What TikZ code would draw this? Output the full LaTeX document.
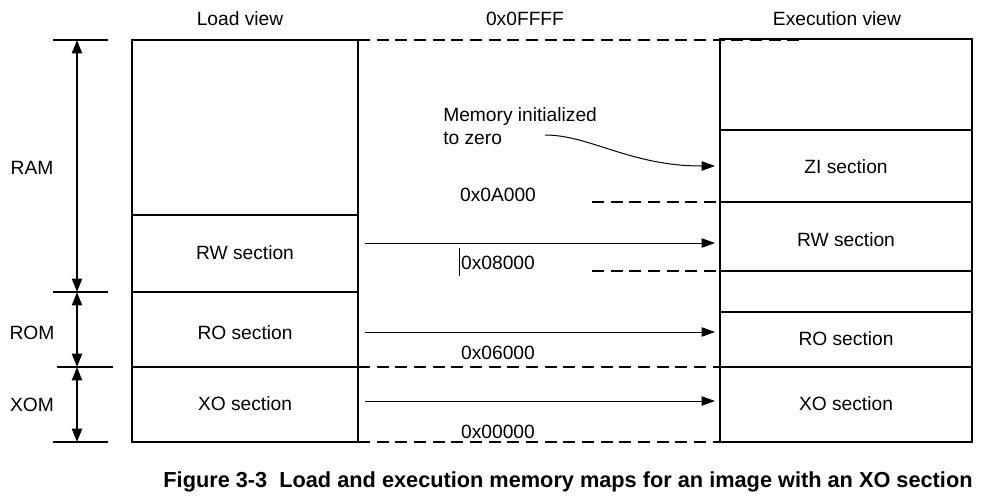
\documentclass[tikz,border=0pt]{standalone}
\usepackage{fontspec}
\setmainfont{Liberation Sans}
\usetikzlibrary{arrows.meta}

\begin{document}
\begin{tikzpicture}[
  x=0.75pt, y=-0.75pt,
  font=\fontsize{14.4}{17}\selectfont,
  bordo/.style={draw=black, line width=1.5pt},
  tratto/.style={draw=black, line width=1.5pt, dash pattern=on 9pt off 5pt},
  freccia/.style={draw=black, line width=0.75pt, -{Triangle[length=10pt,width=7pt]}},
  quota/.style={draw=black, line width=1.5pt, {Triangle[length=10pt,width=7.5pt]}-{Triangle[length=10pt,width=7.5pt]}},
  voce/.style={inner sep=0pt}
]
\useasboundingbox (0,0) rectangle (984,497);

% ---- intestazioni -----------------------------------------------------
\node[voce] (tLoad) at (240,19) {Load view};
\node[voce] (tTop)  at (525,19) {0x0FFFF};
\node[voce] (tExec) at (837,19) {Execution view};

%==============================================================
% Quote a sinistra (RAM / ROM / XOM)
%==============================================================
\draw[bordo] (53,40) -- (108,40);
\draw[bordo] (53,292) -- (108,292);
\draw[bordo] (57,367) -- (113,367);
\draw[bordo] (53,442) -- (108,442);

\coordinate (q0) at (77,40);
\coordinate (q1) at (77,292);
\coordinate (q2) at (77,367);
\coordinate (q3) at (77,442);
\draw[quota] (q0) -- (q1);
\draw[quota] (q1) -- (q2);
\draw[quota] (q2) -- (q3);

\node[voce] (ram) at (32,168) {RAM};
\node[voce] (rom) at (32,333) {ROM};
\node[voce] (xom) at (32,405) {XOM};

%==============================================================
% Load view
%==============================================================
\draw[bordo] (132,40) rectangle (358,442);
\foreach \y in {215,292,367}
  \draw[bordo] (132,\y) -- (358,\y);

\foreach \nome/\y/\testo in {caRW/253/RW section, caRO/333/RO section, caXO/404/XO section}
  \node[voce] (\nome) at (245,\y) {\testo};

%==============================================================
% Execution view
%==============================================================
\draw[bordo] (720,39) rectangle (972,442);
\foreach \y in {130,202,271,312,367}
  \draw[bordo] (720,\y) -- (972,\y);

\foreach \nome/\y/\testo in {esZI/167/ZI section, esRW/240/RW section, esRO/339/RO section, esXO/404/XO section}
  \node[voce] (\nome) at (846,\y) {\testo};

% ---- limiti tratteggiati ----------------------------------------------
\draw[tratto] (358,40) -- (800,40);
\draw[tratto] (592,202) -- (720,202);
\draw[tratto] (592,271) -- (720,271);
\draw[tratto] (358,367) -- (720,367);
\draw[tratto] (358,442) -- (720,442);

% ---- indirizzi -----------------------------------------------------------
\foreach \nome/\y/\testo in {iA/195/0x0A000, iB/263/0x08000, iC/353/0x06000, iD/432/0x00000}
  \node[voce] (\nome) at (498,\y) {\testo};
\draw[line width=0.75pt] (459,248) -- (459,276);

% ---- copie da load a execution -------------------------------------------
\foreach \nome/\y in {rw/243, ro/332, xo/401} {
  \coordinate (\nome-da) at (365,\y);
  \coordinate (\nome-a) at (715,\y);
  \draw[freccia] (\nome-da) -- (\nome-a);
}

% ---- nota ZI --------------------------------------------------------------
\node[voce, anchor=west, align=left] (nota) at (443,126) {Memory initialized\\to zero};
\coordinate (zi-da) at (545,135);
\coordinate (zi-a) at (715,166);
\draw[freccia] (zi-da) .. controls (590,135) and (630,166) .. (zi-a);

% ---- didascalia ------------------------------------------------------------
\node[voce, font=\fontsize{16.3}{19}\selectfont\bfseries] (didascalia) at (568,482)
  {Figure 3-3\ \ Load and execution memory maps for an image with an XO section};

\end{tikzpicture}
\end{document}
